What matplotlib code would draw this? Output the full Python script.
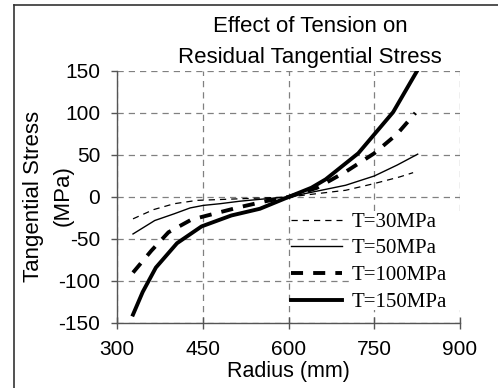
import matplotlib
matplotlib.use("Agg")
import matplotlib.pyplot as plt
from matplotlib.lines import Line2D
from matplotlib.patches import Rectangle

# ---- data ----
r_30 = [328, 364, 400, 440, 480, 520, 560, 600, 650, 700, 750, 795, 818]
s_30 = [-26, -15, -8, -4, -3, -2, -1, 0, 4, 8, 16, 24, 29]

r_50 = [328, 366, 400, 428, 451, 480, 515, 562, 600, 650, 700, 750, 790, 826]
s_50 = [-44, -28, -20, -13, -10, -8, -5, -2, 0, 7, 14, 25, 38, 51]

r_100 = [328, 360, 390, 430, 475, 515, 560, 600, 650, 700, 750, 790, 822]
s_100 = [-90, -64, -42, -27, -19, -12, -5, 0, 11, 30, 52, 75, 100]

r_150 = [328, 345, 368, 405, 448, 500, 550, 600, 640, 665, 722, 783, 824]
s_150 = [-140, -113, -84, -55, -35, -22, -14, 0, 11, 21, 52, 101, 149]

labels = ["T=30MPa", "T=50MPa", "T=100MPa", "T=150MPa"]
x_ticks = [300, 450, 600, 750, 900]
y_ticks = [-150, -100, -50, 0, 50, 100, 150]
title_lines = ["Effect of Tension on", "Residual Tangential Stress"]
ylabel_lines = ["Tangential Stress", "(MPa)"]
xlabel = "Radius (mm)"

W, H = 498, 388
fig = plt.figure(figsize=(W / 100, H / 100), dpi=100)
sans = "Liberation Sans"
serif = "Liberation Serif"
FS = 15
FSL = 16

ax_l, ax_r, ax_t, ax_b = 117, 460, 71, 323
ax = fig.add_axes([ax_l / W, 1 - ax_b / H, (ax_r - ax_l) / W, (ax_b - ax_t) / H])

ax.plot(r_30, s_30, color="black", lw=0.9, dashes=(5, 4), label=labels[0])
ax.plot(r_50, s_50, color="black", lw=1.0, label=labels[1])
ax.plot(r_100, s_100, color="black", lw=2.8, dashes=(3.1, 2.6), label=labels[2])
ax.plot(r_150, s_150, color="black", lw=2.8, label=labels[3])

ax.set_xlim(300, 900)
ax.set_ylim(-150, 150)
ax.set_xticks(x_ticks)
ax.set_yticks(y_ticks)
ax.set_xticklabels([str(v) for v in x_ticks], fontfamily=sans, fontsize=FS)
ax.set_yticklabels([str(v) for v in y_ticks], fontfamily=sans, fontsize=FS)
ax.grid(True, color="#808080", lw=0.9, linestyle=(0, (5, 4)))
ax.set_axisbelow(True)
for s in ["top", "right"]:
    ax.spines[s].set_visible(False)
for s in ["left", "bottom"]:
    ax.spines[s].set_color("#555555")
    ax.spines[s].set_linewidth(1.0)
ax.tick_params(axis="x", direction="inout", length=9, width=1.0, color="#555555", pad=8)
ax.tick_params(axis="y", direction="out", length=4, width=1.0, color="#555555", pad=8)

# white area behind legend labels (hides grid there)
px2r = lambda px: 300 + (px - ax_l) * 600 / (ax_r - ax_l)
py2v = lambda py: 150 - (py - ax_t) * 300 / (ax_b - ax_t)
ax.add_patch(Rectangle((px2r(351), py2v(310)), px2r(463) - px2r(351), py2v(214) - py2v(310),
                       facecolor="white", edgecolor="none", zorder=1.5, clip_on=False))

leg = ax.legend(loc="center left", bbox_to_anchor=(289 / W, 1 - 262 / H),
                bbox_transform=fig.transFigure, frameon=False,
                prop={"family": serif, "size": FS},
                handlelength=2.45, handletextpad=0.45, labelspacing=0.34,
                borderpad=0.1, borderaxespad=0)

# title
fig.text(310 / W, 1 - 27 / H, title_lines[0], ha="center", va="center", fontfamily=sans, fontsize=FSL)
fig.text(310 / W, 1 - 57 / H, title_lines[1], ha="center", va="center", fontfamily=sans, fontsize=FSL)
# y label
fig.text(33 / W, 1 - 196 / H, ylabel_lines[0], ha="center", va="center", rotation=90, fontfamily=sans, fontsize=FSL)
fig.text(63 / W, 1 - 196 / H, ylabel_lines[1], ha="center", va="center", rotation=90, fontfamily=sans, fontsize=FSL)
# x label
fig.text(288 / W, 1 - 371 / H, xlabel, ha="center", va="center", fontfamily=sans, fontsize=15.5)

# outer border (left and top visible)
fig.add_artist(Line2D([14 / W, 14 / W], [0, 1 - 5 / H], transform=fig.transFigure, color="#333333", lw=1.2))
fig.add_artist(Line2D([14 / W, 1], [1 - 5 / H, 1 - 5 / H], transform=fig.transFigure, color="#333333", lw=1.2))

fig.savefig("out.png", dpi=100)
